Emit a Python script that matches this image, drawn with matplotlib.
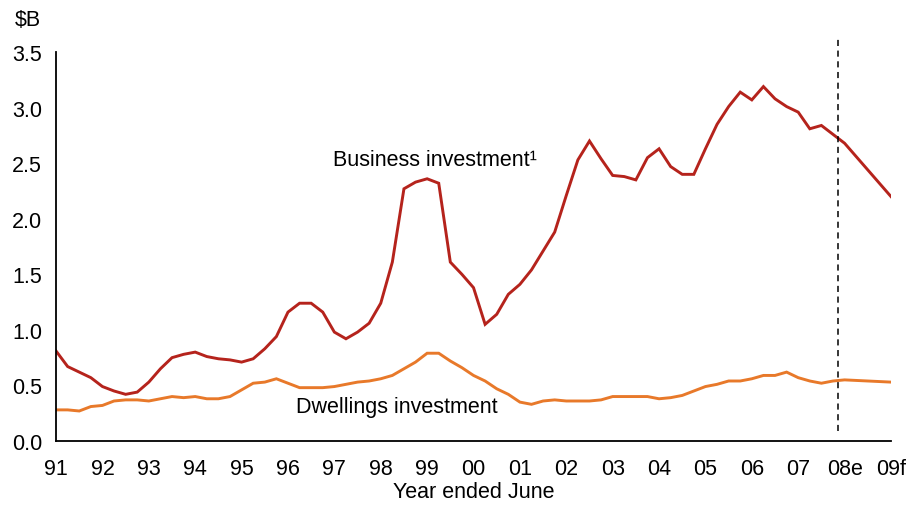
import numpy as np
import matplotlib.pyplot as plt

plt.rcParams['font.family'] = ['Liberation Sans', 'DejaVu Sans']

# quarterly values, 1991 to 2008 (June quarter 2008 is the estimate)
business = [0.81, 0.67, 0.62, 0.57,
            0.49, 0.45, 0.42, 0.44,
            0.53, 0.65, 0.75, 0.78,
            0.80, 0.76, 0.74, 0.73,
            0.71, 0.74, 0.83, 0.94,
            1.16, 1.24, 1.24, 1.16,
            0.98, 0.92, 0.98, 1.06,
            1.24, 1.61, 2.27, 2.33,
            2.36, 2.32, 1.61, 1.50,
            1.38, 1.05, 1.14, 1.32,
            1.41, 1.54, 1.71, 1.88,
            2.21, 2.53, 2.70, 2.54,
            2.39, 2.38, 2.35, 2.55,
            2.63, 2.47, 2.40, 2.40,
            2.63, 2.85, 3.01, 3.14,
            3.07, 3.19, 3.08, 3.01,
            2.96, 2.81, 2.84, 2.76,
            2.68]
dwellings = [0.28, 0.28, 0.27, 0.31,
             0.32, 0.36, 0.37, 0.37,
             0.36, 0.38, 0.40, 0.39,
             0.40, 0.38, 0.38, 0.40,
             0.46, 0.52, 0.53, 0.56,
             0.52, 0.48, 0.48, 0.48,
             0.49, 0.51, 0.53, 0.54,
             0.56, 0.59, 0.65, 0.71,
             0.79, 0.79, 0.72, 0.66,
             0.59, 0.54, 0.47, 0.42,
             0.35, 0.33, 0.36, 0.37,
             0.36, 0.36, 0.36, 0.37,
             0.40, 0.40, 0.40, 0.40,
             0.38, 0.39, 0.41, 0.45,
             0.49, 0.51, 0.54, 0.54,
             0.56, 0.59, 0.59, 0.62,
             0.57, 0.54, 0.52, 0.54,
             0.55]
# 2009 forecast
business_f = 2.20
dwellings_f = 0.53

year_labels = ['91', '92', '93', '94', '95', '96', '97', '98', '99', '00',
               '01', '02', '03', '04', '05', '06', '07', '08e', '09f']
forecast_line = 2007.85

x = np.append(1991 + 0.25 * np.arange(len(business)), 2009)
bus = np.append(business, business_f)
dwl = np.append(dwellings, dwellings_f)

fs = 15.5

fig = plt.figure(figsize=(9.19, 5.06), dpi=100)
ax = fig.add_axes([0.061, 0.1265, 0.9085, 0.7685])

ax.plot(x, bus, color='#B5231C', lw=2.1, solid_joinstyle='miter')
ax.plot(x, dwl, color='#E8792A', lw=2.1, solid_joinstyle='miter')
ax.axvline(forecast_line, ymin=0.025, ymax=1.034, color='black', lw=1.1,
           ls=(0, (4, 3)), clip_on=False)

ax.set_xlim(1991, 2009)
ax.set_ylim(0, 3.5)
ax.set_xticks(np.arange(1991, 2010))
ax.set_xticklabels(year_labels)
ax.set_yticks(np.arange(0, 3.51, 0.5))
ax.set_yticklabels(['%.1f' % v for v in np.arange(0, 3.51, 0.5)])
ax.tick_params(length=0, labelsize=fs)
ax.tick_params(axis='x', pad=12)
ax.tick_params(axis='y', pad=10)
for s in ['top', 'right']:
    ax.spines[s].set_visible(False)
for s in ['left', 'bottom']:
    ax.spines[s].set_linewidth(1.3)

ax.set_xlabel('Year ended June', fontsize=fs, labelpad=1.5)
fig.text(0.030, 0.96, '$B', fontsize=fs, ha='center', va='center')

ax.text(1996.97, 2.53, 'Business investment\u00b9', fontsize=fs, va='center')
ax.text(1996.17, 0.31, 'Dwellings investment', fontsize=fs, va='center')

fig.savefig('out.png', dpi=100)
